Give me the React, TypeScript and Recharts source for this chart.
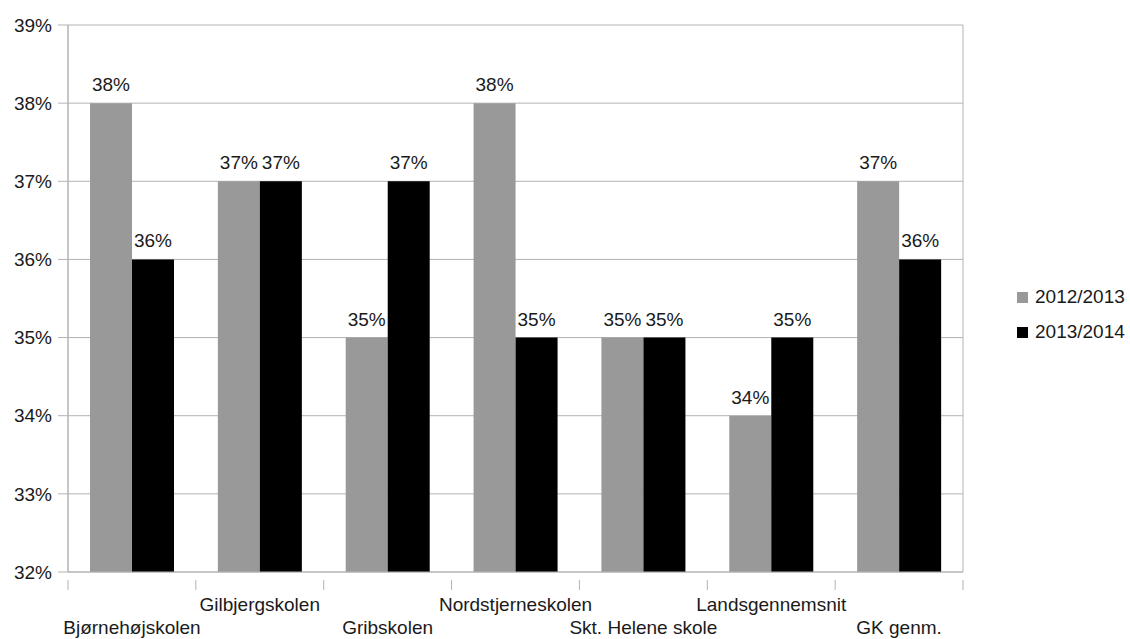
import React from 'react';
import { BarChart, Bar, XAxis, YAxis, CartesianGrid, LabelList } from 'recharts';

const schools = [
    'Bjørnehøjskolen',
    'Gilbjergskolen',
    'Gribskolen',
    'Nordstjerneskolen',
    'Skt. Helene skole',
    'Landsgennemsnit',
    'GK genm.',
];
const year2012 = [38, 37, 35, 38, 35, 34, 37];
const year2013 = [36, 37, 37, 35, 35, 35, 36];
const yTicks = [32, 33, 34, 35, 36, 37, 38, 39];

const seriesNames = ['2012/2013', '2013/2014'];
const seriesColors = ['#999999', '#000000'];

const data = schools.map((name, i) => ({ name, a: year2012[i], b: year2013[i] }));

const FONT = '"Liberation Sans", Arial, sans-serif';
const GRID = '#b3b3b3';
const TEXT = '#1a1a1a';

const XTick = (props: any) => {
    const { x, y, payload, index } = props;
    const half = payload && payload.offset ? payload.offset : 895 / 14;
    const upper = index % 2 === 1;
    return (
        <g>
            <line x1={x - half} y1={y} x2={x - half} y2={y + 10} stroke={GRID} />
            {index === schools.length - 1 && (
                <line x1={x + half} y1={y} x2={x + half} y2={y + 10} stroke={GRID} />
            )}
            <text
                x={x}
                y={upper ? y + 31 : y + 54}
                textAnchor="middle"
                fontSize={19}
                fontFamily={FONT}
                fill={TEXT}
            >
                {payload.value}
            </text>
        </g>
    );
};

export default function App() {
    return (
        <div style={{ position: 'absolute', left: 0, top: 0, width: 1130, height: 639, background: '#fff' }}>
            <BarChart
                width={1130}
                height={639}
                data={data}
                margin={{ top: 25, right: 167, left: 0, bottom: 0 }}
                barCategoryGap={22}
                barGap={0}
            >
                <CartesianGrid
                    stroke={GRID}
                    vertical={true}
                    verticalCoordinatesGenerator={({ offset }: any) => [offset.left, offset.left + offset.width]}
                />
                <XAxis
                    dataKey="name"
                    height={67}
                    axisLine={{ stroke: GRID }}
                    tickLine={false}
                    interval={0}
                    tick={<XTick />}
                />
                <YAxis
                    width={68}
                    domain={[32, 39]}
                    ticks={yTicks}
                    allowDataOverflow
                    axisLine={{ stroke: GRID }}
                    tickLine={{ stroke: GRID }}
                    tickSize={10}
                    tickMargin={6}
                    tickFormatter={(v: number) => `${v}%`}
                    tick={{ fontSize: 19, fontFamily: FONT, fill: TEXT }}
                />
                <Bar dataKey="a" fill={seriesColors[0]} isAnimationActive={false}>
                    <LabelList
                        dataKey="a"
                        position="top"
                        offset={12}
                        formatter={(v: any) => `${v}%`}
                        style={{ fontSize: 19, fontFamily: FONT, fill: TEXT }}
                    />
                </Bar>
                <Bar dataKey="b" fill={seriesColors[1]} isAnimationActive={false}>
                    <LabelList
                        dataKey="b"
                        position="top"
                        offset={12}
                        formatter={(v: any) => `${v}%`}
                        style={{ fontSize: 19, fontFamily: FONT, fill: TEXT }}
                    />
                </Bar>
            </BarChart>
            <div style={{ position: 'absolute', left: 1017, top: 285, fontFamily: FONT, fontSize: 19, color: TEXT }}>
                {seriesNames.map((n, i) => (
                    <div key={n} style={{ display: 'flex', alignItems: 'center', height: 24, marginBottom: 11 }}>
                        <span style={{ width: 11, height: 11, background: seriesColors[i], display: 'inline-block', marginRight: 7 }} />
                        <span>{n}</span>
                    </div>
                ))}
            </div>
        </div>
    );
}
